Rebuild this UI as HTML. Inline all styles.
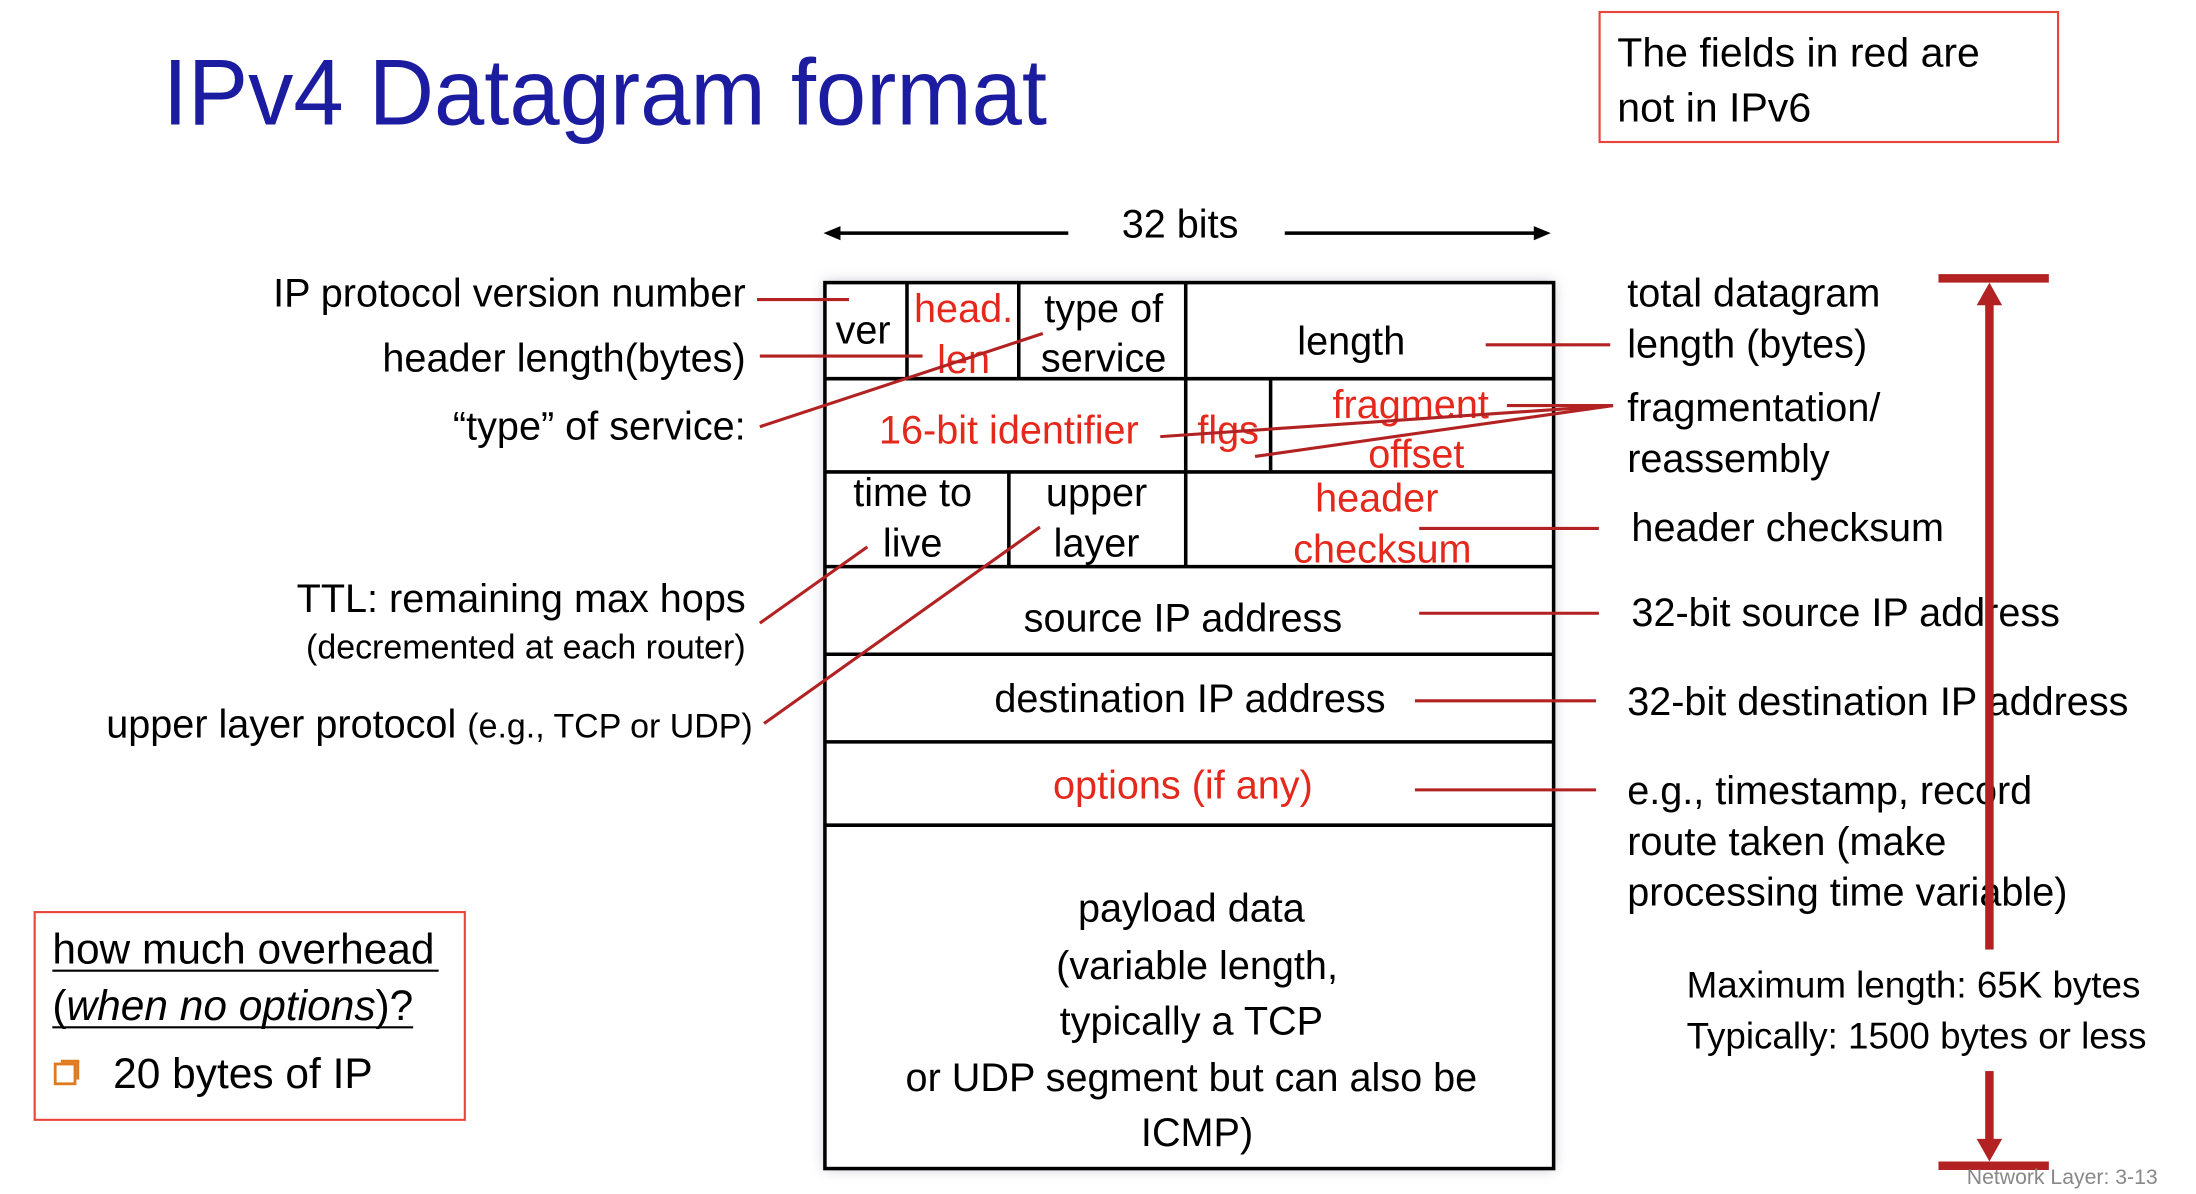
<!DOCTYPE html>
<html><head><meta charset="utf-8"><style>
html,body{margin:0;padding:0;background:#fff;}
svg{display:block;}
text{font-family:"Liberation Sans",Arial,sans-serif;}
</style></head><body>
<svg width="2196" height="1194" viewBox="0 0 1552 845" preserveAspectRatio="none" xmlns="http://www.w3.org/2000/svg">
<defs>
<filter id="sh" x="-10%" y="-10%" width="120%" height="120%"><feGaussianBlur stdDeviation="5"/></filter>
</defs>
<text x="115" y="88" font-size="66" fill="#1c1ca0" textLength="625" lengthAdjust="spacingAndGlyphs">IPv4 Datagram format</text>
<rect x="1130.5" y="8.5" width="324" height="92" fill="none" stroke="#e8443a" stroke-width="1.5"/>
<text x="1143" y="47" font-size="29" fill="#000">The fields in red are</text>
<text x="1143" y="86" font-size="29" fill="#000">not in IPv6</text>
<text x="834" y="168" font-size="28" text-anchor="middle">32 bits</text>
<g stroke="#000" stroke-width="2.5"><line x1="590" y1="165" x2="755" y2="165"/><line x1="908" y1="165" x2="1088" y2="165"/></g>
<polygon points="582,165 594,160 594,170" fill="#000"/><polygon points="1096,165 1084,160 1084,170" fill="#000"/>
<rect x="583" y="200" width="515" height="627" fill="#aab" filter="url(#sh)" opacity="0.7"/>
<rect x="583" y="200" width="515" height="627" fill="#fff" stroke="#000" stroke-width="2.5"/>
<g stroke="#000" stroke-width="2.5">
<line x1="583" y1="268" x2="1098" y2="268"/><line x1="583" y1="334" x2="1098" y2="334"/><line x1="583" y1="401" x2="1098" y2="401"/><line x1="583" y1="463" x2="1098" y2="463"/><line x1="583" y1="525" x2="1098" y2="525"/><line x1="583" y1="584" x2="1098" y2="584"/>
<line x1="641" y1="200" x2="641" y2="268"/><line x1="720" y1="200" x2="720" y2="268"/><line x1="838" y1="200" x2="838" y2="401"/><line x1="898" y1="268" x2="898" y2="334"/><line x1="713" y1="334" x2="713" y2="401"/>
</g>
<g font-size="28" text-anchor="middle" fill="#000">
<text x="610" y="243">ver</text>
<text x="681" y="228" fill="#e5281c">head.</text><text x="681" y="264" fill="#e5281c">len</text>
<text x="780" y="228">type of</text><text x="780" y="263">service</text>
<text x="955" y="251">length</text>
<text x="713" y="314" fill="#e5281c">16-bit identifier</text>
<text x="868" y="314" fill="#e5281c">flgs</text>
<text x="997" y="296" fill="#e5281c">fragment</text><text x="1001" y="331" fill="#e5281c">offset</text>
<text x="645" y="358">time to</text><text x="645" y="394">live</text>
<text x="775" y="358">upper</text><text x="775" y="394">layer</text>
<text x="973" y="362" fill="#e5281c">header</text><text x="977" y="398" fill="#e5281c">checksum</text>
<text x="836" y="447">source IP address</text>
<text x="841" y="504">destination IP address</text>
<text x="836" y="565" fill="#e5281c">options (if any)</text>
<text x="842" y="652">payload data</text>
<text x="846" y="693">(variable length,</text>
<text x="842" y="732">typically a TCP</text>
<text x="842" y="772">or UDP segment but can also be</text>
<text x="846" y="811">ICMP)</text>
</g>
<g font-size="28" text-anchor="end" fill="#000">
<text x="527" y="217">IP protocol version number</text>
<text x="527" y="263">header length(bytes)</text>
<text x="527" y="311">“type” of service:</text>
<text x="527" y="433">TTL: remaining  max hops</text>
<text x="527" y="466" font-size="24">(decremented at each router)</text>
<text x="532" y="522">upper layer protocol <tspan font-size="24">(e.g., TCP or UDP)</tspan></text>
</g>
<g stroke="#b22222" stroke-width="2.2">
<line x1="535" y1="212" x2="600" y2="212"/>
<line x1="537" y1="252" x2="652" y2="252"/>
<line x1="537" y1="302" x2="737" y2="236"/>
<line x1="537" y1="441" x2="613" y2="387"/>
<line x1="540" y1="512" x2="735" y2="373"/>
<line x1="1050" y1="244" x2="1138" y2="244"/>
<line x1="1140" y1="287" x2="1065" y2="287"/>
<line x1="1140" y1="287" x2="820" y2="309"/>
<line x1="1140" y1="287" x2="887" y2="323"/>
<line x1="1003" y1="374" x2="1130" y2="374"/>
<line x1="1003" y1="434" x2="1130" y2="434"/>
<line x1="1000" y1="496" x2="1128" y2="496"/>
<line x1="1000" y1="559" x2="1128" y2="559"/>
</g>
<g font-size="28" fill="#000">
<text x="1150" y="217">total datagram</text><text x="1150" y="253">length (bytes)</text>
<text x="1150" y="298">fragmentation/</text><text x="1150" y="334">reassembly</text>
<text x="1153" y="383">header checksum</text>
<text x="1153" y="443">32-bit source IP address</text>
<text x="1150" y="506">32-bit destination IP address</text>
<text x="1150" y="569">e.g., timestamp, record</text>
<text x="1150" y="605">route taken (make</text>
<text x="1150" y="641">processing time variable)</text>
</g>
<g fill="#b22222" stroke="none">
<rect x="1370" y="194" width="78" height="6"/>
<rect x="1403" y="210" width="6" height="462"/>
<polygon points="1406,200 1397,216 1415,216"/>
<rect x="1370" y="822" width="78" height="6"/>
<rect x="1403" y="758" width="6" height="52"/>
<polygon points="1406,822 1397,806 1415,806"/>
</g>
<text x="1192" y="706" font-size="26">Maximum length: 65K bytes</text>
<text x="1192" y="742" font-size="26">Typically: 1500 bytes or less</text>
<text x="1390" y="838" font-size="15" fill="#888">Network Layer: 3-13</text>
<rect x="24.5" y="645.5" width="304" height="147" fill="none" stroke="#e8443a" stroke-width="1.5"/>
<text x="37" y="682" font-size="30">how much overhead</text>
<line x1="37" y1="687" x2="310" y2="687" stroke="#000" stroke-width="1.5"/>
<text x="37" y="722" font-size="30">(<tspan font-style="italic">when no options</tspan>)?</text>
<line x1="37" y1="727" x2="292" y2="727" stroke="#000" stroke-width="1.5"/>
<rect x="39" y="753" width="14" height="14" fill="none" stroke="#e07a1f" stroke-width="2"/>
<line x1="43" y1="751" x2="56" y2="751" stroke="#e07a1f" stroke-width="2"/><line x1="55" y1="751" x2="55" y2="764" stroke="#e07a1f" stroke-width="2"/>
<text x="80" y="770" font-size="30">20 bytes of IP</text>
</svg>
</body></html>
